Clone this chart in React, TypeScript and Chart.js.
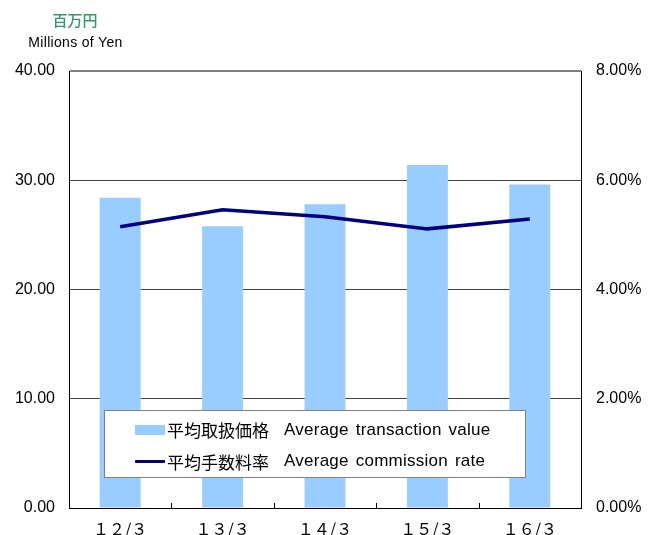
import React, { useEffect, useRef } from "react";
import { Chart, registerables } from "chart.js";

Chart.register(...registerables);

const categories = ["１２/３", "１３/３", "１４/３", "１５/３", "１６/３"];
const avgTransactionValue = [28.4, 25.8, 27.8, 31.4, 29.6];
const avgCommissionRate = [5.15, 5.46, 5.33, 5.11, 5.29];
const seriesLabels = ["平均取扱価格 Average transaction value", "平均手数料率 Average commission rate"];
const unitJa = "百万円";
const unitEn = "Millions of Yen";

const BAR_COLOR = "#99CCFF";
const LINE_COLOR = "#000080";

const decorPlugin = {
  id: "decor",
  afterDatasetsDraw(chart: any) {
    const { ctx, chartArea, scales } = chart;
    const xs = scales.x;
    ctx.save();
    // inward tick marks at category boundaries
    ctx.strokeStyle = "#000";
    ctx.lineWidth = 1;
    for (let i = 1; i < categories.length; i++) {
      const x = Math.round((xs.getPixelForValue(i - 1) + xs.getPixelForValue(i)) / 2) + 0.5;
      ctx.beginPath();
      ctx.moveTo(x, chartArea.bottom);
      ctx.lineTo(x, chartArea.bottom - 5);
      ctx.stroke();
    }
    // legend box
    const bx = 104.5, by = 410.5, bw = 421, bh = 67;
    ctx.fillStyle = "#fff";
    ctx.fillRect(bx, by, bw, bh);
    ctx.strokeStyle = "#808080";
    ctx.strokeRect(bx, by, bw, bh);
    const rows = [430, 461.5];
    // swatches
    ctx.fillStyle = BAR_COLOR;
    ctx.fillRect(135, rows[0] - 5, 30, 10);
    ctx.strokeStyle = LINE_COLOR;
    ctx.lineWidth = 3;
    ctx.beginPath();
    ctx.moveTo(135, rows[1]);
    ctx.lineTo(165, rows[1]);
    ctx.stroke();
    ctx.fillStyle = "#000";
    ctx.textBaseline = "middle";
    ctx.textAlign = "left";
    seriesLabels.forEach((lab, i) => {
      const sp = lab.indexOf(" ");
      const ja = lab.slice(0, sp);
      const en = lab.slice(sp + 1);
      ctx.font = "17px 'Noto Sans CJK JP'";
      (ctx as any).letterSpacing = "0px";
      ctx.fillText(ja, 167, rows[i] + 1);
      ctx.font = "17px 'Liberation Sans'";
      (ctx as any).letterSpacing = "0.25px";
      (ctx as any).wordSpacing = "2px";
      ctx.fillText(en, 284, rows[i]);
      (ctx as any).wordSpacing = "0px";
    });
    (ctx as any).letterSpacing = "0px";
    // unit titles
    ctx.textAlign = "center";
    ctx.fillStyle = "#339966";
    ctx.font = "500 15px 'Noto Sans CJK JP'";
    ctx.fillText(unitJa, 75, 20);
    ctx.fillStyle = "#000";
    ctx.font = "14px 'Liberation Sans'";
    (ctx as any).letterSpacing = "0.3px";
    ctx.textBaseline = "alphabetic";
    ctx.fillText(unitEn, 75.5, 46.5);
    (ctx as any).letterSpacing = "0px";
    ctx.restore();
  },
};

export default function App() {
  const ref = useRef<HTMLCanvasElement>(null);
  useEffect(() => {
    const chart = new Chart(ref.current!, {
      type: "bar",
      data: {
        labels: categories,
        datasets: [
          {
            type: "line",
            label: seriesLabels[1],
            data: avgCommissionRate,
            yAxisID: "y1",
            borderColor: LINE_COLOR,
            backgroundColor: LINE_COLOR,
            borderWidth: 3.5,
            pointRadius: 0,
            tension: 0,
            order: 0,
          } as any,
          {
            type: "bar",
            label: seriesLabels[0],
            data: avgTransactionValue,
            yAxisID: "y",
            backgroundColor: BAR_COLOR,
            barPercentage: 0.4,
            categoryPercentage: 1,
            order: 1,
          },
        ],
      },
      options: {
        responsive: false,
        animation: false,
        layout: { padding: { top: 71, left: 0, right: 0, bottom: 0 } },
        plugins: { legend: { display: false }, tooltip: { enabled: false } },
        scales: {
          x: {
            afterFit: (s: any) => { s.height = 27; },
            grid: { display: true, drawOnChartArea: false, drawTicks: false },
            border: { display: true, color: "#000", width: 1 },
            ticks: { color: "#000", padding: 11, font: { family: "'Noto Sans CJK JP'", size: 16 }, maxRotation: 0 },
          },
          y: {
            position: "left",
            min: 0,
            max: 40,
            afterFit: (s: any) => { s.width = 69; },
            grid: {
              drawTicks: false,
              color: (c: any) => (c.tick && c.tick.value === 40 ? "#808080" : "#404040"),
              lineWidth: (c: any) => (c.tick && c.tick.value === 40 ? 2 : 1),
            },
            border: { display: true, color: "#000", width: 1 },
            ticks: {
              stepSize: 10,
              padding: 14,
              color: "#000",
              font: { family: "'Liberation Sans'", size: 16 },
              callback: (v: any) => Number(v).toFixed(2),
            },
          },
          y1: {
            position: "right",
            min: 0,
            max: 8,
            afterFit: (s: any) => { s.width = 69; },
            grid: { display: true, drawOnChartArea: false, drawTicks: false },
            border: { display: true, color: "#000", width: 1 },
            ticks: {
              stepSize: 2,
              padding: 15,
              color: "#000",
              font: { family: "'Liberation Sans'", size: 16 },
              callback: (v: any) => Number(v).toFixed(2) + "%",
            },
          },
        },
      },
      plugins: [decorPlugin],
    });
    return () => chart.destroy();
  }, []);
  return (
    <div style={{ position: "absolute", left: 0, top: 0, width: 650, height: 535, background: "#fff" }}>
      <canvas ref={ref} width={650} height={535} />
    </div>
  );
}
